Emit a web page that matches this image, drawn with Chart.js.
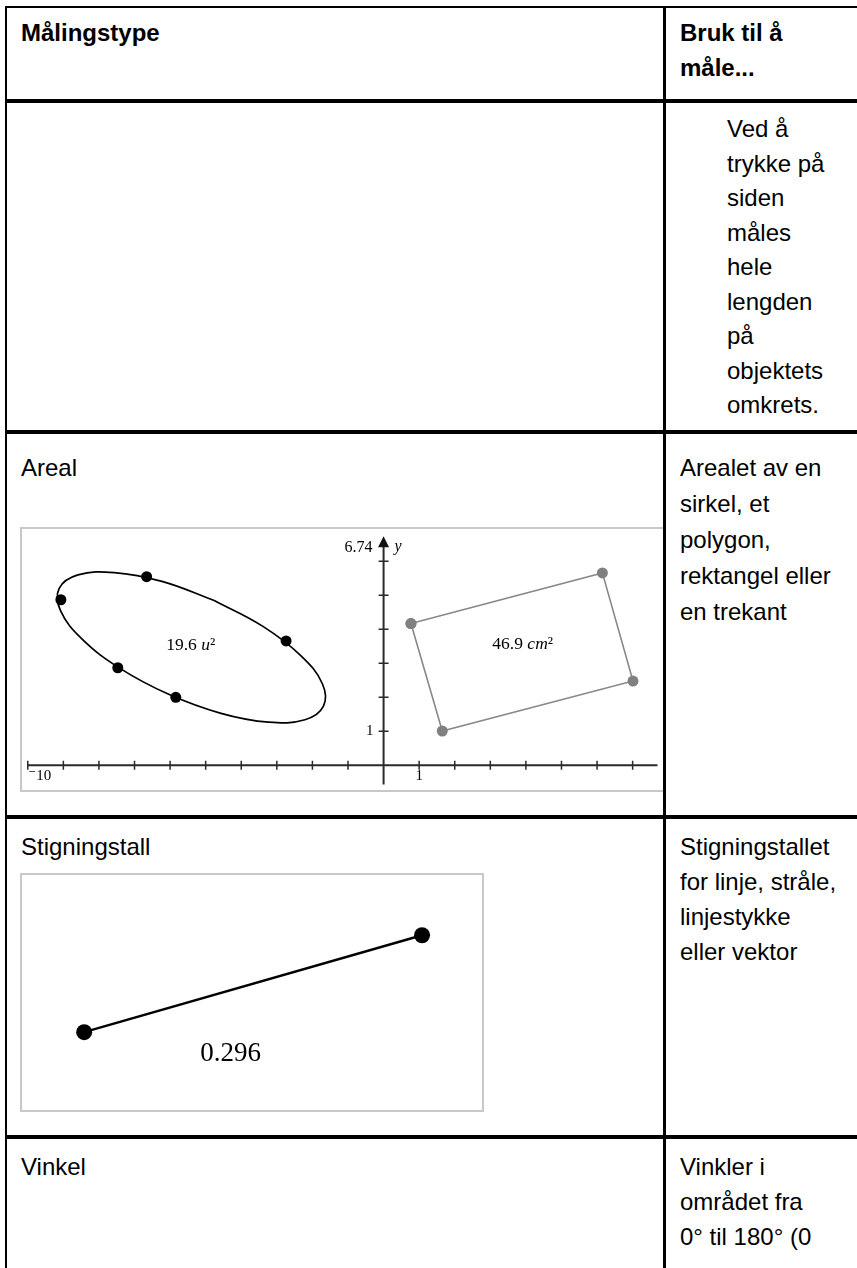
<!DOCTYPE html>
<html lang="no">
<head>
<meta charset="utf-8">
<title>Målingstype</title>
<script src="https://cdn.jsdelivr.net/npm/chart.js@4.4.1/dist/chart.umd.min.js"></script>
<style>
  html, body { margin: 0; padding: 0; background: #fff; }
  body {
    width: 857px; height: 1268px; position: relative; overflow: hidden;
    font-family: "Liberation Sans", Arial, sans-serif; font-size: 24px; color: #000;
  }
  .rule { position: absolute; background: #000; z-index: 2; }
  .txt { position: absolute; line-height: 35px; white-space: nowrap; }
  .head { font-weight: bold; }
  .box { position: absolute; border: 2px solid #c8c8c8; box-sizing: border-box; }
  canvas { position: absolute; }
</style>
</head>
<body>

<!-- table rules -->
<div class="rule" style="left:5px;top:6px;width:852px;height:2px"></div>
<div class="rule" style="left:5px;top:6px;width:2px;height:1262px"></div>
<div class="rule" style="left:663px;top:6px;width:3px;height:1262px"></div>
<div class="rule" style="left:5px;top:99px;width:852px;height:4px"></div>
<div class="rule" style="left:5px;top:430px;width:852px;height:4px"></div>
<div class="rule" style="left:5px;top:815px;width:852px;height:4px"></div>
<div class="rule" style="left:5px;top:1135px;width:852px;height:4px"></div>

<!-- header -->
<div class="txt head" style="left:21px;top:15px">Målingstype</div>
<div class="txt head" style="left:680px;top:15px">Bruk til å<br>måle...</div>

<!-- row 1 -->
<div class="txt" style="left:727px;top:112px;line-height:34.5px">Ved å<br>trykke på<br>siden<br>måles<br>hele<br>lengden<br>på<br>objektets<br>omkrets.</div>

<!-- row 2 -->
<div class="txt" style="left:21px;top:450px">Areal</div>
<div class="txt" style="left:680px;top:450px;line-height:36px">Arealet av en<br>sirkel, et<br>polygon,<br>rektangel eller<br>en trekant</div>
<div class="box" style="left:20px;top:527px;width:646px;height:265px"></div>
<canvas id="arealChart" width="641" height="261" style="left:22px;top:529px;width:641px;height:261px"></canvas>

<!-- row 3 -->
<div class="txt" style="left:21px;top:829px">Stigningstall</div>
<div class="txt" style="left:680px;top:829px">Stigningstallet<br>for linje, stråle,<br>linjestykke<br>eller vektor</div>
<div class="box" style="left:20px;top:873px;width:464px;height:239px"></div>
<canvas id="slopeChart" width="460" height="235" style="left:22px;top:875px;width:460px;height:235px"></canvas>

<!-- row 4 -->
<div class="txt" style="left:21px;top:1149px">Vinkel</div>
<div class="txt" style="left:680px;top:1149px">Vinkler i<br>området fra<br>0° til 180° (0</div>

<script>
// ---- Areal: ellipse outline (starting on the flat top side),
// its five points, and the rectangle
const ellipseX = [-4.76, -6.23, -7.57, -8.59, -9.12, -9.08, -8.48, -7.42, -6.04, -4.57, -3.23, -2.21, -1.69, -1.72, -2.32, -3.38, -4.76];
const ellipseY = [4.85, 5.41, 5.67, 5.60, 5.20, 4.55, 3.72, 2.86, 2.09, 1.53, 1.27, 1.34, 1.74, 2.40, 3.22, 4.08, 4.85];
const ellipseDotX = [-6.66, -9.07, -2.74, -7.47, -5.84];
const ellipseDotY = [5.55, 4.87, 3.66, 2.87, 2.00];
const rectX = [0.77, 6.15, 7.01, 1.65, 0.77];
const rectY = [4.17, 5.66, 2.48, 1.01, 4.17];

const xTicks = [-10, -9, -8, -7, -6, -5, -4, -3, -2, -1, 1, 2, 3, 4, 5, 6, 7];
const yTicks = [1, 2, 3, 4, 5, 6];
const xTickLabels = { '-10': '\u207B10', '1': '1' };
const yTickLabels = { '1': '1' };
const yAxisTop = 6.74;
const yAxisName = 'y';

const areaLabels = [
  { x: -5.42, y: 3.52, parts: [['19.6 ', ''], ['u', 'italic '], ['\u00B2', '']] },
  { x: 3.91, y: 3.55, parts: [['46.9 ', ''], ['cm', 'italic '], ['\u00B2', '']] }
];

// ---- Stigningstall: one segment
const slopeX = [1.22, 8.83];
const slopeY = [1.63, 3.89];
const slopeLabel = { x: 4.52, y: 1.13, text: '0.296' };

const serif = '"Liberation Serif", "DejaVu Serif", "Times New Roman", serif';

function toXY(xs, ys) {
  return xs.map((v, i) => ({ x: v, y: ys[i] }));
}

function drawRich(ctx, parts, cx, cy, size) {
  let total = 0;
  parts.forEach(([t, st]) => { ctx.font = st + size + 'px ' + serif; total += ctx.measureText(t).width; });
  let x = cx - total / 2;
  ctx.textAlign = 'left';
  ctx.textBaseline = 'middle';
  parts.forEach(([t, st]) => {
    ctx.font = st + size + 'px ' + serif;
    ctx.fillText(t, x, cy);
    x += ctx.measureText(t).width;
  });
}

// axes of the graph window, drawn with the chart's own scales
const axesPlugin = {
  id: 'graphAxes',
  beforeDatasetsDraw(chart) {
    const { ctx, chartArea: a, scales: { x, y } } = chart;
    const x0 = x.getPixelForValue(0);
    const y0 = y.getPixelForValue(0);
    const yTop = y.getPixelForValue(yAxisTop);
    ctx.save();
    ctx.strokeStyle = '#2a2a2a';
    ctx.fillStyle = '#111';
    ctx.lineWidth = 2;
    ctx.beginPath();
    ctx.moveTo(a.left, y0); ctx.lineTo(a.right, y0);
    ctx.moveTo(x0, a.bottom); ctx.lineTo(x0, yTop + 8);
    ctx.stroke();
    // ticks
    ctx.lineWidth = 1.5;
    ctx.beginPath();
    xTicks.forEach(v => { const px = x.getPixelForValue(v); ctx.moveTo(px, y0 - 4.5); ctx.lineTo(px, y0 + 4.5); });
    yTicks.forEach(v => { const py = y.getPixelForValue(v); ctx.moveTo(x0 - 5, py); ctx.lineTo(x0 + 5, py); });
    ctx.stroke();
    // arrow head
    ctx.beginPath();
    ctx.moveTo(x0, yTop);
    ctx.lineTo(x0 - 5.5, yTop + 11);
    ctx.lineTo(x0 + 5.5, yTop + 11);
    ctx.closePath();
    ctx.fill();
    // labels
    ctx.fillStyle = '#000';
    ctx.font = '15px ' + serif;
    ctx.textBaseline = 'middle';
    Object.keys(xTickLabels).forEach(k => {
      const px = x.getPixelForValue(Number(k));
      ctx.textAlign = Number(k) < 0 ? 'left' : 'center';
      ctx.fillText(xTickLabels[k], Number(k) < 0 ? px + 0.5 : px, y0 + 11);
    });
    Object.keys(yTickLabels).forEach(k => {
      ctx.textAlign = 'right';
      ctx.fillText(yTickLabels[k], x0 - 10, y.getPixelForValue(Number(k)));
    });
    ctx.font = '16px ' + serif;
    ctx.textAlign = 'right';
    ctx.fillText(yAxisTop.toFixed(2), x0 - 11, yTop + 12);
    ctx.font = 'italic 16px ' + serif;
    ctx.textAlign = 'left';
    ctx.fillText(yAxisName, x0 + 11, yTop + 11);
    // measurement labels
    areaLabels.forEach(l => drawRich(ctx, l.parts, x.getPixelForValue(l.x), y.getPixelForValue(l.y), 17.5));
    ctx.restore();
  }
};

const slopeTextPlugin = {
  id: 'slopeText',
  afterDatasetsDraw(chart) {
    const { ctx, scales: { x, y } } = chart;
    ctx.save();
    ctx.fillStyle = '#000';
    ctx.font = '27px ' + serif;
    ctx.textAlign = 'center';
    ctx.textBaseline = 'middle';
    ctx.fillText(slopeLabel.text, x.getPixelForValue(slopeLabel.x), y.getPixelForValue(slopeLabel.y));
    ctx.restore();
  }
};

const baseOptions = (xmin, xmax, ymin, ymax) => ({
  responsive: false,
  animation: false,
  layout: { padding: 0 },
  plugins: { legend: { display: false }, tooltip: { enabled: false } },
  scales: {
    x: { type: 'linear', min: xmin, max: xmax, display: false },
    y: { type: 'linear', min: ymin, max: ymax, display: false }
  }
});

new Chart(document.getElementById('arealChart'), {
  type: 'scatter',
  data: {
    datasets: [
      {
        data: toXY(ellipseX, ellipseY), showLine: true, tension: 0.4,
        borderColor: '#000', borderWidth: 1.7, pointRadius: 0
      },
      {
        data: toXY(ellipseDotX, ellipseDotY), showLine: false,
        pointRadius: 5.5, pointBackgroundColor: '#000', pointBorderWidth: 0
      },
      {
        data: toXY(rectX, rectY), showLine: true, tension: 0,
        borderColor: '#888', borderWidth: 1.6,
        pointRadius: 5.5, pointBackgroundColor: '#808080', pointBorderWidth: 0
      }
    ]
  },
  options: baseOptions(-10.008, 7.699, -0.563, 6.789),
  plugins: [axesPlugin]
});

new Chart(document.getElementById('slopeChart'), {
  type: 'scatter',
  data: {
    datasets: [{
      data: toXY(slopeX, slopeY), showLine: true,
      borderColor: '#000', borderWidth: 2.4,
      pointRadius: 8, pointBackgroundColor: '#000', pointBorderWidth: 0
    }]
  },
  options: baseOptions(0, 10, 0, 5.109),
  plugins: [slopeTextPlugin]
});
</script>
</body>
</html>
